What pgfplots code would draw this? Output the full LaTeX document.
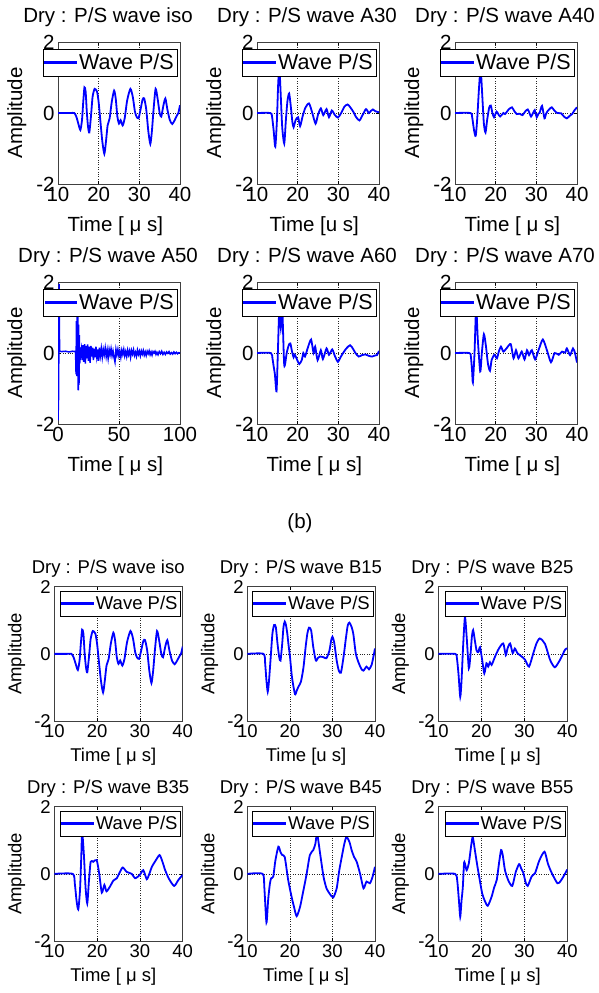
\documentclass[border=0pt]{standalone}
\usepackage{fontspec}
\setmainfont{Liberation Sans}
\usepackage{pgfplots}
\usepackage{pgfplotstable}
\pgfplotsset{compat=1.18}
\newcommand\fa{\fontsize{20.5bp}{24bp}\selectfont}
\newcommand\fal{\fontsize{21.5bp}{24bp}\selectfont}
\newcommand\fb{\fontsize{18.5bp}{22bp}\selectfont}

\pgfplotstableread{
x y
10 0
13 0
14 0.0
14.5 -0.1
15 -0.3
15.5 -0.48
15.9 -0.2
16.2 0.3
16.5 0.72
16.8 0.6
17.1 0.0
17.4 -0.4
17.7 -0.55
18.1 -0.1
18.5 0.45
19.0 0.68
19.6 0.6
20.0 0.3
20.4 -0.2
20.9 -0.8
21.4 -1.15
21.8 -0.8
22.2 -0.35
22.7 -0.15
23.2 0.3
23.8 0.63
24.2 0.4
24.6 -0.1
25.0 -0.3
25.4 -0.2
25.9 -0.35
26.4 -0.15
27.0 0.35
27.8 0.68
28.4 0.45
28.9 0.05
29.3 -0.1
29.8 -0.15
30.3 0.1
30.8 0.38
31.2 0.41
31.7 0.1
32.2 -0.5
32.7 -0.87
33.1 -0.5
33.5 0.1
34.0 0.68
34.5 0.4
35.0 0.0
35.4 -0.1
35.9 0.2
36.4 0.41
36.9 0.1
37.5 -0.2
38.1 -0.31
38.7 -0.2
39.2 -0.08
39.6 0.0
40 0.22
}\isodata

\pgfplotsset{
  wave/.style={blue, line width=1.8bp, mark=none, smooth, tension=0.4},
  rawwave/.style={blue, line width=1.5bp, mark=none},
  base/.style={scale only axis, anchor=north west,
    xmin=10, xmax=40, ymin=-2, ymax=2,
    xtick={10,20,30,40}, xticklabels={10,20,30,40},
    ytick={-2,0,2}, yticklabels={-2,0,2},
    grid=major, major grid style={dotted, line width=0.6bp, black!85},
    tick align=inside, major tick length=3bp,
    tick style={black, line width=0.5bp},
    axis line style={line width=0.6bp, black!75},
    every axis title shift=0pt,
    legend image code/.code={\fill[blue] (0bp,-0.8bp) rectangle (31bp,0.8bp);},
    legend cell align=left,
    ylabel={Amplitude},
  },
  topg/.style={base, width=122bp, height=142bp,
    tick label style={font=\fa},
    title style={font=\fa, at={(0.41,1.134)}, anchor=base},
    xlabel style={font=\fa, at={(0.47,-0.338)}, anchor=base},
    ylabel style={font=\fa, at={(-0.295,0.5)}, anchor=base},
    legend style={font=\fal, draw=black, fill=white,
      inner xsep=1bp, inner ysep=0.5bp,
      at={(1,1)}, anchor=north east, xshift=-3bp, yshift=-7bp,
      nodes={inner xsep=2bp, inner ysep=4bp, text depth=0.2em}},
  },
  botg/.style={base, height=134.3bp,
    tick label style={font=\fb},
    title style={font=\fb, at={(0.42,1.102)}, anchor=base},
    xlabel style={font=\fb, at={(0.46,-0.305)}, anchor=base},
    ylabel style={font=\fb, at={(-0.257,0.5)}, anchor=base},
    legend style={font=\fb, draw=black, fill=white,
      inner xsep=1bp, inner ysep=1bp,
      at={(1,1)}, anchor=north east, xshift=-2bp, yshift=-4bp,
      nodes={inner xsep=2bp, inner ysep=4bp, text depth=0.2em}},
  },
}

\begin{document}
\begin{tikzpicture}
\useasboundingbox (0,0) rectangle (599bp,-993bp);

% ---------- group (a) ----------
\begin{axis}[topg, at={(58bp,-42bp)}, title={Dry : P/S wave iso}, xlabel={Time [ μ  s]}]
\addplot[wave] table {\isodata};
\addlegendentry{Wave P/S}
\end{axis}

\begin{axis}[topg, at={(257bp,-42bp)}, title={Dry : P/S wave A30}, xlabel={Time [u s]}]
\addplot[wave] table {
10 0
13.3 0
13.7 -0.1
14.1 -0.5
14.5 -0.95
14.9 -0.2
15.2 0.8
15.5 1.3
15.8 0.6
16.2 -0.4
16.7 -0.86
17.1 -0.2
17.5 0.35
17.9 0.55
18.3 0.2
18.7 -0.25
19.0 -0.4
19.5 -0.2
20.1 -0.12
20.6 -0.37
21.2 -0.1
21.9 0.15
22.8 0.27
23.6 0.0
24.4 -0.3
25.0 -0.05
25.7 0.13
26.3 -0.06
27.1 0.11
27.7 -0.12
28.4 0.07
29.1 -0.05
29.9 -0.13
30.7 0.0
31.5 0.18
32.3 0.24
33.0 0.15
33.6 0.05
34.4 -0.12
35.2 -0.21
36.0 -0.05
36.8 0.11
37.5 0.0
38.0 0.06
38.5 0.1
39.1 0.05
40 0.02
};
\addlegendentry{Wave P/S}
\end{axis}

\begin{axis}[topg, at={(455bp,-42bp)}, title={Dry : P/S wave A40}, xlabel={Time [ μ  s]}]
\addplot[wave] table {
10 0
13.8 0
14.2 -0.1
14.7 -0.5
15.1 -0.64
15.5 -0.1
15.9 0.7
16.3 1.25
16.7 0.5
17.1 -0.3
17.5 -0.55
17.9 -0.2
18.4 0.15
18.8 0.21
19.2 0.0
19.6 -0.12
20.2 0.04
20.6 -0.02
21.1 -0.1
21.9 0.0
22.3 -0.03
23.2 0.1
24.0 0.16
24.6 0.05
25.2 -0.03
25.9 -0.02
26.6 -0.06
27.3 0.05
27.9 0.1
28.3 0.0
28.7 -0.1
29.2 0.0
29.6 0.08
30.1 -0.12
30.5 -0.02
30.8 0.0
31.4 0.2
32.0 -0.15
32.4 -0.02
32.8 0.06
33.3 0.12
33.8 0.16
34.5 0.06
35.1 0.0
36.1 -0.01
36.8 -0.1
37.5 -0.15
38.2 -0.08
38.8 -0.03
39.4 0.08
40 0.16
};
\addlegendentry{Wave P/S}
\end{axis}

\begin{axis}[topg, at={(58bp,-282bp)}, title={Dry : P/S wave A50}, xlabel={Time [ μ  s]},
  xmin=0, xmax=100, xtick={0,50,100}, xticklabels={0,50,100}]
\addplot[rawwave] table {
0 -1.9
0.5 -1.2
0.9 1.95
1.3 0.05
3 0.04
6 0.05
9 0.03
12 0.05
14 0.04
14.4 0.05
14.8 -0.6
15.1 0.9
15.4 -0.65
15.7 1.3
16.0 -0.5
16.3 1.2
16.6 -1.05
16.9 0.8
17.2 -0.9
17.5 0.5
17.8 -0.3
18.2 0.15
18.6 -0.05
19.2 0.1
19.8 -0.2
20.5 0.22
21.1 -0.25
21.8 0.25
22.4 -0.3
23.0 0.2
23.7 -0.15
24.3 0.24
25.0 -0.22
25.6 0.18
26.3 -0.28
27.0 0.2
27.6 -0.1
28.3 0.15
29.0 -0.2
29.7 0.12
30.4 -0.12
31.1 0.18
31.8 -0.1
32.5 0.1
33.2 -0.22
33.9 0.15
34.7 -0.08
35.5 0.13
36.3 -0.12
37.1 0.1
37.9 -0.05
38.7 0.14
39.5 -0.1
40.3 0.08
41.1 -0.15
41.9 0.1
42.7 -0.05
43.5 0.12
44.3 -0.08
45.1 0.06
45.9 -0.12
46.7 -0.25
47.5 0.1
48.3 -0.05
49.1 0.1
49.9 -0.08
50.7 0.05
51.5 -0.12
52.3 0.08
53.1 -0.04
53.9 0.1
54.7 -0.08
55.5 0.04
56.3 -0.1
57.1 0.08
57.9 -0.05
58.7 0.06
59.5 -0.12
60.3 0.07
61.1 -0.03
61.9 0.09
62.7 -0.07
63.5 0.02
64.3 -0.09
65.1 0.08
65.9 -0.04
66.7 0.05
67.5 -0.08
68.3 0.06
69.1 -0.03
69.9 0.07
70.7 -0.06
71.5 0.03
72.3 -0.07
73.1 0.05
73.9 -0.02
74.7 0.06
75.5 -0.05
76.3 0.03
77.1 -0.06
77.9 0.04
78.7 0.0
79.5 0.05
80.3 -0.04
81.1 0.02
82.0 -0.05
83.0 0.04
84.0 -0.02
85.0 0.05
86.0 -0.04
87.0 0.02
88.0 -0.04
89.0 0.03
90.0 -0.01
91.0 0.04
92.0 -0.03
93.0 0.01
94.0 -0.03
95.0 0.03
96.0 -0.02
97.0 0.02
98.0 -0.02
99.0 0.01
100 0.0
};
\addlegendentry{Wave P/S}
\end{axis}

\begin{axis}[topg, at={(257bp,-282bp)}, title={Dry : P/S wave A60}, xlabel={Time [ μ  s]}]
\addplot[wave] table {
10 0
13.4 0
13.8 -0.15
14.1 -0.38
14.4 -0.6
14.8 -1.08
15.1 -0.1
15.5 1.3
15.85 0.7
16.2 1.3
16.7 -0.34
17.3 0.0
17.8 0.22
18.2 0.27
18.6 0.05
19.0 -0.12
19.3 -0.05
19.9 -0.2
20.4 -0.31
21.0 -0.2
21.4 0.0
21.8 -0.1
22.5 0.15
23.3 0.38
23.9 0.0
24.3 0.18
24.9 -0.2
25.7 0.08
26.2 -0.17
27.1 0.13
27.7 -0.05
28.5 0.1
29.2 -0.1
29.9 -0.25
30.4 -0.15
30.9 -0.05
31.9 0.12
32.9 0.22
33.6 0.12
34.2 0.0
35.0 -0.1
35.8 -0.06
36.6 -0.04
37.5 -0.08
38.3 -0.1
39.0 -0.07
39.5 -0.06
40 0.06
};
\addlegendentry{Wave P/S}
\end{axis}

\begin{axis}[topg, at={(455bp,-282bp)}, title={Dry : P/S wave A70}, xlabel={Time [ μ  s]}]
\addplot[wave] table {
10 0
13.5 0
13.9 -0.1
14.2 -0.5
14.4 -0.83
14.8 0.0
15.2 1.3
15.6 0.4
16.2 -0.52
16.6 0.0
17.1 0.53
17.6 0.2
18.1 -0.3
18.6 -0.5
19.0 -0.2
19.7 -0.05
20.3 -0.15
20.8 0.05
21.3 0.18
21.9 0.04
22.8 0.15
23.7 0.25
24.4 -0.15
25.0 0.08
25.6 -0.15
26.4 0.04
27.1 -0.18
27.7 0.08
28.2 -0.06
28.9 0.08
29.7 -0.18
30.6 0.1
31.6 0.38
32.6 0.08
33.6 -0.26
34.5 0.0
35.5 -0.05
36.3 0.04
37.1 0.01
37.5 0.13
38.3 -0.06
39.0 0.13
39.5 0.0
40 -0.27
};
\addlegendentry{Wave P/S}
\end{axis}

\node[font=\fa] at (300bp,-523bp) {(b)};

% ---------- group (b) ----------
\begin{axis}[botg, width=128.4bp, at={(54.3bp,-586.7bp)}, title={Dry : P/S wave iso}, xlabel={Time [ μ  s]}]
\addplot[wave] table {\isodata};
\addlegendentry{Wave P/S}
\end{axis}

\begin{axis}[botg, width=127.7bp, at={(247.3bp,-586.7bp)}, title={Dry : P/S wave B15}, xlabel={Time [u s]}]
\addplot[wave] table {
10 0
13.8 0
14.2 -0.3
14.5 -0.8
14.8 -1.13
15.1 -0.8
15.5 -0.1
15.9 0.6
16.3 0.86
16.7 0.8
17.1 0.3
17.5 -0.1
17.8 -0.2
18.2 0.3
18.5 0.8
18.8 0.96
19.1 0.85
19.4 0.6
19.7 0.25
20.0 -0.05
20.5 -0.7
21.2 -1.2
21.6 -1.1
22.0 -0.98
22.6 -0.83
23.2 -0.4
23.7 0.2
24.1 0.6
24.5 0.78
25.0 0.7
25.5 0.2
26.1 -0.2
26.6 -0.12
27.1 -0.08
27.9 -0.1
28.6 -0.13
29.3 0.1
29.7 0.4
30.0 0.51
30.4 0.35
31.0 -0.2
31.5 -0.5
32.0 -0.56
32.6 -0.1
33.2 0.5
33.6 0.85
34.0 0.93
34.5 0.8
34.9 0.6
35.5 0.0
36.2 -0.28
36.8 -0.45
37.3 -0.5
38.0 -0.38
38.6 -0.46
39.2 -0.33
39.6 -0.1
40 0.16
};
\addlegendentry{Wave P/S}
\end{axis}

\begin{axis}[botg, width=129bp, at={(438.3bp,-586.7bp)}, title={Dry : P/S wave B25}, xlabel={Time [ μ  s]}]
\addplot[wave] table {
10 0
13.9 0
14.3 -0.1
14.7 -0.6
15.1 -1.28
15.4 -0.8
15.8 0.3
16.2 1.1
16.6 0.5
17.1 -0.43
17.5 0.0
17.8 0.5
18.1 0.71
18.5 0.4
18.9 0.1
19.3 0.05
19.7 0.2
20.2 -0.18
20.7 -0.58
21.2 -0.28
21.6 -0.38
22.0 -0.25
22.4 -0.33
23.2 -0.08
24.1 0.16
25.1 0.31
25.7 -0.04
26.1 0.16
26.7 0.31
27.3 0.02
27.8 0.16
28.4 0.02
29.4 -0.08
30.2 -0.18
31.1 -0.38
32.1 0.02
32.8 0.3
33.6 0.46
34.8 0.3
36.0 -0.18
37.1 -0.4
38.3 -0.18
39.5 0.13
40 0.16
};
\addlegendentry{Wave P/S}
\end{axis}

\begin{axis}[botg, width=128.4bp, at={(54.3bp,-806.7bp)}, title={Dry : P/S wave B35}, xlabel={Time [ μ  s]}]
\addplot[wave] table {
10 0
14.3 0
14.8 -0.3
15.2 -0.8
15.6 -1.06
16.0 -0.5
16.3 0.5
16.5 1.25
16.9 0.6
17.3 -0.4
17.7 -0.88
18.1 -0.2
18.5 0.36
19.1 0.36
19.9 0.41
20.5 0.0
21.1 -0.56
21.7 -0.33
22.2 -0.52
23.0 -0.38
23.8 -0.2
24.6 -0.13
25.3 0.05
26.0 0.19
26.9 0.06
28.1 0.0
28.9 -0.13
30.0 -0.03
30.8 0.11
31.6 -0.16
32.2 0.0
32.8 0.21
33.7 0.4
34.6 0.56
35.3 0.35
35.9 0.11
36.8 -0.15
38.0 -0.36
39.0 -0.18
40 -0.03
};
\addlegendentry{Wave P/S}
\end{axis}

\begin{axis}[botg, width=127.7bp, at={(247.3bp,-806.7bp)}, title={Dry : P/S wave B45}, xlabel={Time [ μ  s]}]
\addplot[wave] table {
10 0
13.6 0
14.0 -0.4
14.5 -1.45
14.9 -0.77
15.3 -0.3
15.6 -0.13
16.1 -0.08
16.6 0.4
17.3 0.81
17.8 0.65
18.2 0.56
18.8 0.5
19.6 -0.18
20.4 -0.68
21.0 -1.0
21.6 -1.26
22.4 -0.98
23.2 -0.48
23.9 -0.03
24.7 0.56
25.5 0.71
26.0 0.9
26.4 1.2
27.1 0.61
27.9 -0.08
28.6 -0.43
29.4 -0.6
30.2 -0.7
31.0 -0.43
31.6 0.1
32.2 0.51
32.8 0.9
33.3 1.1
34.0 0.95
34.5 0.71
35.1 0.5
35.7 0.36
36.5 0.0
37.3 -0.43
38.0 -0.23
38.8 -0.28
39.4 -0.1
40 0.21
};
\addlegendentry{Wave P/S}
\end{axis}

\begin{axis}[botg, width=129bp, at={(438.3bp,-806.7bp)}, title={Dry : P/S wave B55}, xlabel={Time [ μ  s]}]
\addplot[wave] table {
10 0
13.9 0
14.4 -0.2
14.8 -0.8
15.1 -1.28
15.4 -0.8
15.7 -0.4
16.0 0.33
16.3 0.25
16.6 0.11
17.1 0.31
17.6 0.8
18.0 1.1
18.5 0.71
19.0 0.3
19.5 -0.08
20.2 -0.58
20.8 -0.8
21.5 -0.95
22.4 -0.68
23.0 -0.4
23.6 -0.18
24.1 0.3
24.6 0.71
25.0 0.55
25.5 0.11
26.3 -0.2
27.2 -0.36
28.0 0.05
28.8 0.29
29.3 0.15
29.8 0.02
30.3 -0.25
30.8 -0.36
31.7 -0.08
32.5 0.02
33.5 0.4
34.7 0.66
35.5 0.3
36.4 0.02
37.7 -0.28
38.4 -0.22
39.1 -0.08
40 0.13
};
\addlegendentry{Wave P/S}
\end{axis}
\end{tikzpicture}
\end{document}
